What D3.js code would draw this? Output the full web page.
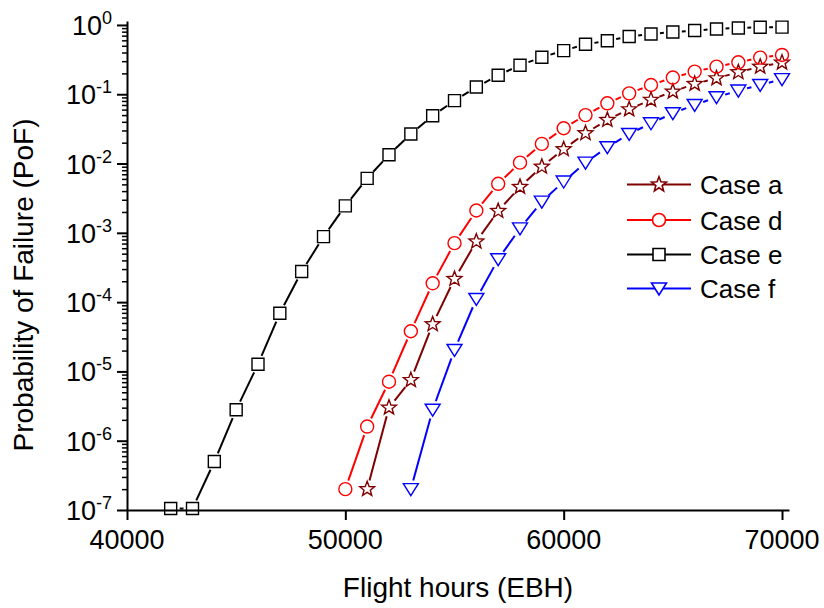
<!DOCTYPE html>
<html>
<head>
<meta charset="utf-8">
<script src="https://cdn.jsdelivr.net/npm/d3@7"></script>
<style>
  body { margin: 0; background: #fff; }
  svg { display: block; }
  text { font-family: Arial, "Liberation Sans", sans-serif; fill: #000; }
</style>
</head>
<body>
<svg id="chart" width="824" height="608"></svg>
<script>
// Flight hours (EBH) for each case
const hoursA = [51000, 52000, 53000, 54000, 55000, 56000, 57000, 58000, 59000, 60000,
                61000, 62000, 63000, 64000, 65000, 66000, 67000, 68000, 69000, 70000];
const hoursD = [50000, 51000, 52000, 53000, 54000, 55000, 56000, 57000, 58000, 59000, 60000,
                61000, 62000, 63000, 64000, 65000, 66000, 67000, 68000, 69000, 70000];
const hoursE = [42000, 43000, 44000, 45000, 46000, 47000, 48000, 49000, 50000, 51000,
                52000, 53000, 54000, 55000, 56000, 57000, 58000, 59000, 60000, 61000,
                62000, 63000, 64000, 65000, 66000, 67000, 68000, 69000, 70000];
const hoursF = [53000, 54000, 55000, 56000, 57000, 58000, 59000, 60000, 61000,
                62000, 63000, 64000, 65000, 66000, 67000, 68000, 69000, 70000];

// Probability of failure (PoF) for each case
const pofA = [2.0e-7, 3.0e-6, 7.5e-6, 4.8e-5, 2.16e-4, 7.5e-4, 2.07e-3, 4.6e-3, 9.0e-3, 1.61e-2,
              2.74e-2, 4.26e-2, 6.07e-2, 8.3e-2, 0.109, 0.141, 0.17, 0.208, 0.25, 0.286];
const pofD = [2.0e-7, 1.6e-6, 7.1e-6, 3.8e-5, 1.87e-4, 7.1e-4, 2.1e-3, 5.1e-3, 1.03e-2, 1.92e-2, 3.23e-2,
              5.0e-2, 7.4e-2, 0.103, 0.136, 0.174, 0.212, 0.25, 0.289, 0.338, 0.369];
const pofE = [1.05e-7, 1.05e-7, 5.0e-7, 2.8e-6, 1.27e-5, 6.9e-5, 2.76e-4, 8.8e-4, 2.45e-3, 6.1e-3,
              1.34e-2, 2.67e-2, 4.9e-2, 8.1e-2, 0.127, 0.188, 0.262, 0.342, 0.426, 0.526,
              0.59, 0.68, 0.74, 0.79, 0.83, 0.875, 0.905, 0.925, 0.93];
const pofF = [2.0e-7, 2.8e-6, 2.04e-5, 1.11e-4, 4.16e-4, 1.16e-3, 2.82e-3, 5.5e-3, 1.03e-2,
              1.72e-2, 2.67e-2, 3.81e-2, 5.32e-2, 7.0e-2, 9.05e-2, 0.113, 0.136, 0.165];

const caseNames = ["Case a", "Case d", "Case e", "Case f"];
const caseColors = ["#800000", "#ff0000", "#000000", "#0000ff"];
const caseSymbols = ["star", "circle", "square", "triangleDown"];

const xTickValues = [40000, 50000, 60000, 70000];
const yTickExponents = [0, -1, -2, -3, -4, -5, -6, -7];

const series = [
  { name: caseNames[0], color: caseColors[0], symbol: caseSymbols[0], x: hoursA, y: pofA },
  { name: caseNames[1], color: caseColors[1], symbol: caseSymbols[1], x: hoursD, y: pofD },
  { name: caseNames[2], color: caseColors[2], symbol: caseSymbols[2], x: hoursE, y: pofE },
  { name: caseNames[3], color: caseColors[3], symbol: caseSymbols[3], x: hoursF, y: pofF }
];

const svg = d3.select("#chart");
const FONT = 27;

const x = d3.scaleLinear().domain([40000, 70320]).range([127, 789]);
const y = d3.scaleLog().domain([1e-7, 1.14]).range([510, 21]);

// marker outlines, centred on (0,0)
function markerPath(type) {
  if (type === "square") {
    const s = 6;
    return `M${-s},${-s}H${s}V${s}H${-s}Z`;
  }
  if (type === "circle") {
    return d3.arc()({ innerRadius: 0, outerRadius: 6.5, startAngle: 0, endAngle: 2 * Math.PI });
  }
  if (type === "triangleDown") {
    return "M-7.5,-5.5L7.5,-5.5L0,6.5Z";
  }
  // five-point star
  const R = 7.8, r = 3.3, pts = [];
  for (let i = 0; i < 10; i++) {
    const a = -Math.PI / 2 + i * Math.PI / 5;
    const rad = i % 2 === 0 ? R : r;
    pts.push([rad * Math.cos(a), rad * Math.sin(a)]);
  }
  return "M" + pts.map(p => p.join(",")).join("L") + "Z";
}

// ---- axes ----
const xAxis = d3.axisBottom(x).tickValues(xTickValues).tickSize(10).tickSizeOuter(0).tickFormat("");
const gx = svg.append("g").attr("transform", "translate(0,510)").call(xAxis);
gx.select(".domain").attr("stroke-width", 2);
gx.selectAll(".tick line").attr("stroke-width", 2);

const yMinor = [];
for (let e = -7; e < 0; e++) for (let k = 2; k <= 9; k++) yMinor.push(k * Math.pow(10, e));

const yAxisMinor = d3.axisLeft(y).tickValues(yMinor).tickSize(5).tickSizeOuter(0).tickFormat("");
const gyMinor = svg.append("g").attr("transform", "translate(127,0)").call(yAxisMinor);
gyMinor.select(".domain").remove();
gyMinor.selectAll(".tick line").attr("stroke-width", 1.5);

const yAxis = d3.axisLeft(y).tickValues(yTickExponents.map(e => Math.pow(10, e)))
  .tickSize(10).tickSizeOuter(0).tickFormat("");
const gy = svg.append("g").attr("transform", "translate(127,0)").call(yAxis);
gy.select(".domain").attr("stroke-width", 2);
gy.selectAll(".tick line").attr("stroke-width", 2);

// tick labels
svg.append("g").selectAll("text").data(xTickValues).join("text")
  .attr("x", d => x(d)).attr("y", 549)
  .attr("text-anchor", "middle").attr("font-size", FONT)
  .text(d => d);

const yl = svg.append("g").selectAll("text").data(yTickExponents).join("text")
  .attr("x", 112).attr("y", d => y(Math.pow(10, d)) + 10)
  .attr("text-anchor", "end").attr("font-size", FONT);
yl.append("tspan").text("10");
yl.append("tspan").attr("dy", -11).attr("font-size", 18).text(d => String(d));

// axis titles
svg.append("text").attr("x", 458).attr("y", 597).attr("text-anchor", "middle")
  .attr("font-size", 28).text("Flight hours (EBH)");
svg.append("text").attr("transform", "translate(33,285) rotate(-90)")
  .attr("text-anchor", "middle").attr("font-size", 28).text("Probability of Failure (PoF)");

// ---- data ----
const GAP = 9;
series.forEach(s => {
  const pts = s.x.map((h, i) => [x(h), y(s.y[i])]);
  const g = svg.append("g");
  // connecting segments that stop short of each marker
  const segs = d3.pairs(pts).map(([p, q]) => {
    const dx = q[0] - p[0], dy = q[1] - p[1];
    const len = Math.hypot(dx, dy);
    if (len <= 2 * GAP) return null;
    const ux = dx / len, uy = dy / len;
    return [p[0] + ux * GAP, p[1] + uy * GAP, q[0] - ux * GAP, q[1] - uy * GAP];
  }).filter(Boolean);
  g.selectAll("line").data(segs).join("line")
    .attr("x1", d => d[0]).attr("y1", d => d[1]).attr("x2", d => d[2]).attr("y2", d => d[3])
    .attr("stroke", s.color).attr("stroke-width", 2);
  g.selectAll("path").data(pts).join("path")
    .attr("d", markerPath(s.symbol))
    .attr("transform", d => `translate(${d[0]},${d[1]})`)
    .attr("fill", "none").attr("stroke", s.color).attr("stroke-width", 1.4);
});

// ---- legend ----
const legendRows = [184.5, 220, 254.5, 288.5];
const lg = svg.append("g");
series.forEach((s, i) => {
  const ry = legendRows[i];
  lg.append("line").attr("x1", 627).attr("x2", 691).attr("y1", ry).attr("y2", ry)
    .attr("stroke", s.color).attr("stroke-width", 2);
  lg.append("path").attr("d", markerPath(s.symbol))
    .attr("transform", `translate(659,${ry})`)
    .attr("fill", "#fff").attr("stroke", s.color).attr("stroke-width", 1.6);
  lg.append("text").attr("x", 700).attr("y", ry + 9.5).attr("font-size", 26).text(s.name);
});
</script>
</body>
</html>
